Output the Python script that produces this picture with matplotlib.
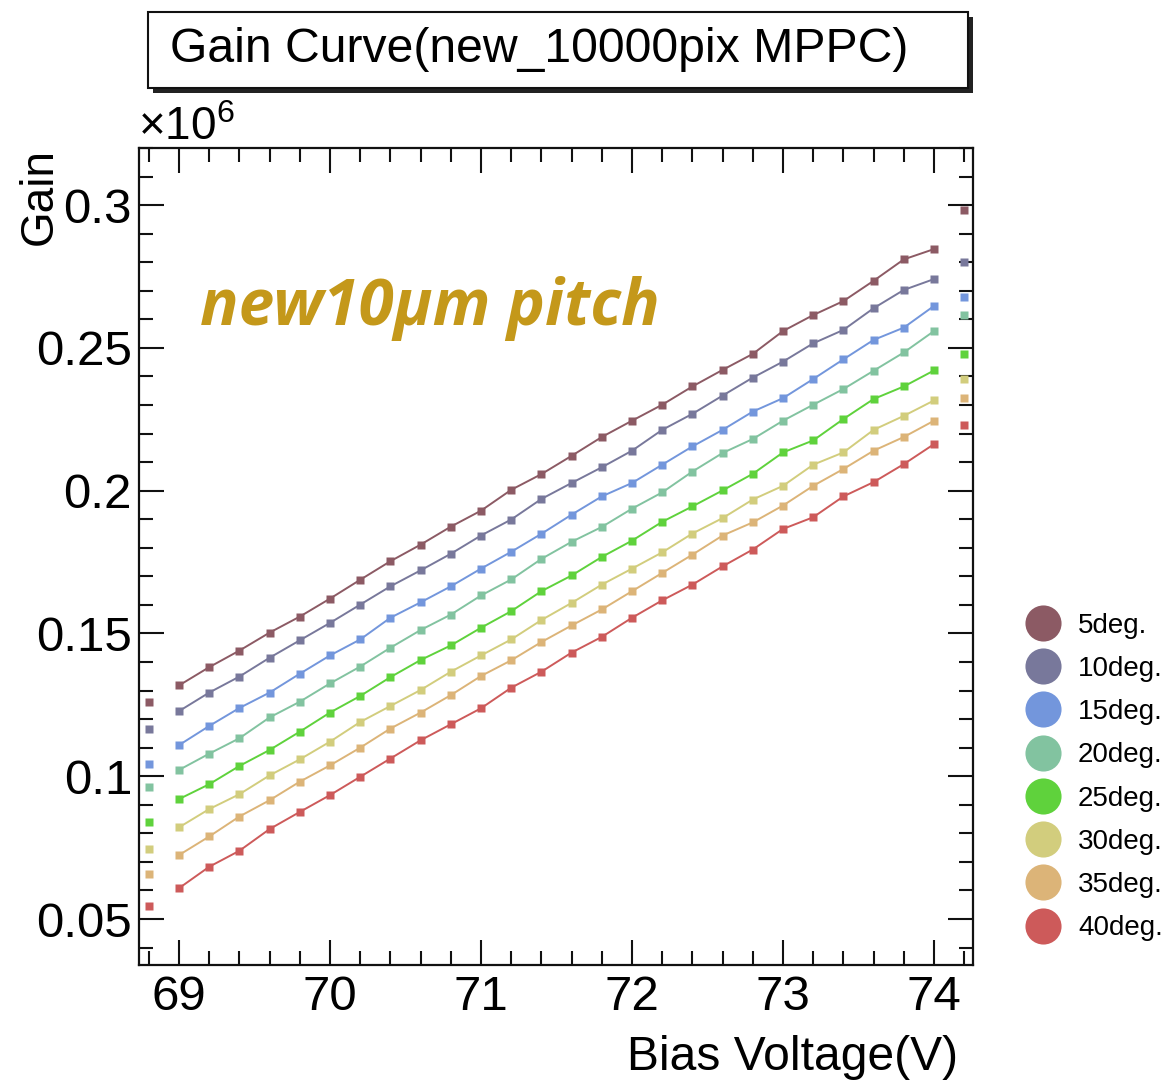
import matplotlib
matplotlib.use("Agg")
import matplotlib.pyplot as plt
from matplotlib.ticker import MultipleLocator, FuncFormatter
from matplotlib.patches import Rectangle
from matplotlib.lines import Line2D

plt.rcParams['font.family'] = ['Liberation Sans', 'DejaVu Sans']
plt.rcParams['mathtext.fontset'] = 'custom'
plt.rcParams['mathtext.rm'] = 'Liberation Sans'

# Bias voltage scan points (V)
bias_voltage = [69.0, 69.2, 69.4, 69.6, 69.8, 70.0, 70.2, 70.4, 70.6, 70.8,
                71.0, 71.2, 71.4, 71.6, 71.8, 72.0, 72.2, 72.4, 72.6, 72.8,
                73.0, 73.2, 73.4, 73.6, 73.8, 74.0]

# Extra measurement points just outside the scan range
edge_voltage_low = 68.8
edge_voltage_high = 74.2

labels = ["5deg.", "10deg.", "15deg.", "20deg.", "25deg.", "30deg.", "35deg.", "40deg."]
colors = ["#8c5a64", "#78789b", "#7396dc", "#82c3a0", "#5fd23c", "#d2cd7d", "#dcb478", "#cd5a5a"]

# Gain in units of 10^6
gain_5deg = [0.1318, 0.1382, 0.1440, 0.1503, 0.1559, 0.1622, 0.1688, 0.1753, 0.1811, 0.1874,
             0.1930, 0.2003, 0.2058, 0.2122, 0.2188, 0.2245, 0.2301, 0.2365, 0.2423, 0.2479,
             0.2559, 0.2615, 0.2664, 0.2735, 0.2810, 0.2846]
gain_10deg = [0.1228, 0.1293, 0.1349, 0.1415, 0.1476, 0.1537, 0.1601, 0.1665, 0.1721, 0.1779,
              0.1843, 0.1899, 0.1971, 0.2027, 0.2082, 0.2140, 0.2213, 0.2269, 0.2333, 0.2396,
              0.2452, 0.2516, 0.2563, 0.2639, 0.2703, 0.2741]
gain_15deg = [0.1109, 0.1176, 0.1239, 0.1293, 0.1359, 0.1423, 0.1479, 0.1555, 0.1609, 0.1665,
              0.1727, 0.1786, 0.1849, 0.1916, 0.1980, 0.2027, 0.2091, 0.2155, 0.2213, 0.2277,
              0.2324, 0.2391, 0.2460, 0.2528, 0.2571, 0.2647]
gain_20deg = [0.1022, 0.1079, 0.1133, 0.1206, 0.1261, 0.1325, 0.1384, 0.1450, 0.1512, 0.1566,
              0.1633, 0.1689, 0.1761, 0.1821, 0.1873, 0.1937, 0.1994, 0.2067, 0.2132, 0.2181,
              0.2245, 0.2301, 0.2356, 0.2420, 0.2484, 0.2559]
gain_25deg = [0.0920, 0.0972, 0.1036, 0.1092, 0.1156, 0.1223, 0.1281, 0.1347, 0.1407, 0.1458,
              0.1520, 0.1578, 0.1648, 0.1703, 0.1768, 0.1825, 0.1891, 0.1945, 0.2001, 0.2059,
              0.2134, 0.2176, 0.2251, 0.2321, 0.2365, 0.2421]
gain_30deg = [0.0821, 0.0885, 0.0937, 0.1003, 0.1059, 0.1121, 0.1190, 0.1246, 0.1302, 0.1366,
              0.1423, 0.1479, 0.1547, 0.1607, 0.1671, 0.1727, 0.1784, 0.1850, 0.1904, 0.1969,
              0.2017, 0.2091, 0.2134, 0.2213, 0.2262, 0.2316]
gain_35deg = [0.0724, 0.0789, 0.0859, 0.0916, 0.0981, 0.1038, 0.1100, 0.1167, 0.1223, 0.1284,
              0.1351, 0.1406, 0.1470, 0.1528, 0.1584, 0.1648, 0.1712, 0.1776, 0.1843, 0.1889,
              0.1948, 0.2017, 0.2076, 0.2140, 0.2188, 0.2245]
gain_40deg = [0.0608, 0.0683, 0.0739, 0.0815, 0.0875, 0.0934, 0.0998, 0.1062, 0.1126, 0.1182,
              0.1238, 0.1310, 0.1366, 0.1433, 0.1488, 0.1555, 0.1616, 0.1671, 0.1735, 0.1794,
              0.1866, 0.1907, 0.1980, 0.2030, 0.2093, 0.2163]

gain_edge_low = [0.1260, 0.1164, 0.1044, 0.0964, 0.0840, 0.0745, 0.0657, 0.0544]
gain_edge_high = [0.2983, 0.2802, 0.2677, 0.2615, 0.2479, 0.2391, 0.2324, 0.2231]

series = [gain_5deg, gain_10deg, gain_15deg, gain_20deg,
          gain_25deg, gain_30deg, gain_35deg, gain_40deg]

W, H = 1164, 1084
fig = plt.figure(figsize=(W / 100, H / 100), dpi=100)
ax = fig.add_axes([139 / W, 1 - 965 / H, (973 - 139) / W, (965 - 148) / H])

for g, lo, hi, c in zip(series, gain_edge_low, gain_edge_high, colors):
    ax.plot(bias_voltage, g, color=c, lw=1.4, marker='s', ms=5.5, mec='none', mfc=c)
    ax.plot([edge_voltage_low, edge_voltage_high], [lo, hi], ls='none',
            marker='s', ms=5.5, mec='none', mfc=c)

ax.set_xlim(68.735, 74.258)
ax.set_ylim(0.0339, 0.3200)

ax.xaxis.set_major_locator(MultipleLocator(1))
ax.xaxis.set_minor_locator(MultipleLocator(0.2))
ax.yaxis.set_major_locator(MultipleLocator(0.05))
ax.yaxis.set_minor_locator(MultipleLocator(0.01))
ax.yaxis.set_major_formatter(FuncFormatter(lambda v, p: f"{v:g}"))
ax.xaxis.set_major_formatter(FuncFormatter(lambda v, p: f"{v:g}"))

ax.tick_params(which='both', direction='in', top=True, right=True, width=1.5, color='#111111')
ax.tick_params(which='major', length=18)
ax.tick_params(which='minor', length=10)
ax.tick_params(axis='x', which='major', labelsize=35.5, pad=7)
ax.tick_params(axis='y', which='major', labelsize=35.5, pad=5)
for s in ax.spines.values():
    s.set_linewidth(1.6)
    s.set_color('#111111')

ax.set_xlabel("Bias Voltage(V)", fontsize=34.6, ha='right', va='center')
ax.xaxis.set_label_coords((958 - 139) / (973 - 139), -(1057 - 965) / (965 - 148))

# Gain axis title, aligned to the top of the frame
ax.text(-(139 - 40) / (973 - 139), 1.0, "Gain", transform=ax.transAxes, fontsize=33,
        rotation=90, ha='center', va='top')

# Exponent marker of the gain axis
fig.text(138 / W, 1 - 140 / H, r"$\times10^{6}$", fontsize=33, ha='left', va='baseline')

# Title box with drop shadow
x0, y0, x1, y1 = 148 / W, 1 - 88 / H, 968 / W, 1 - 12 / H
fig.patches.append(Rectangle((x0 + 5 / W, y0 - 5 / H), x1 - x0, y1 - y0,
                             transform=fig.transFigure, facecolor='#222222',
                             edgecolor='none', zorder=1))
fig.patches.append(Rectangle((x0, y0), x1 - x0, y1 - y0, transform=fig.transFigure,
                             facecolor='white', edgecolor='#111111', lw=1.5, zorder=2))
fig.text(170 / W, 1 - 50 / H, "Gain Curve(new_10000pix MPPC)", fontsize=34.7,
         ha='left', va='center', zorder=3)

# Sensor annotation
ax.text(200 / W, 1 - 325 / H, "new10\u00b5m pitch", transform=fig.transFigure,
        fontsize=46, color='#c4981a', family=['Open Sans', 'DejaVu Sans'],
        fontweight='bold', fontstyle='italic', ha='left', va='baseline')

handles = [Line2D([], [], ls='none', marker='o', ms=26, mec='none', mfc=c) for c in colors]
fig.legend(handles, labels, loc='center left', bbox_to_anchor=(1029 / W, 1 - 777 / H),
           bbox_transform=fig.transFigure, frameon=False, fontsize=20,
           handlelength=1.0, handletextpad=0.76, labelspacing=0.62,
           borderpad=0, borderaxespad=0)

fig.savefig("out.png", dpi=100)
